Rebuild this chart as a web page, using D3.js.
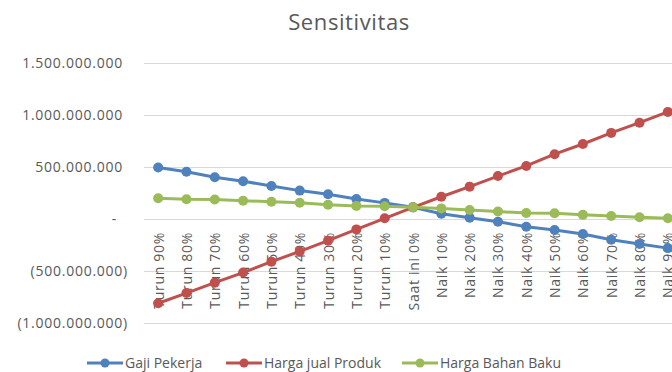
<!DOCTYPE html>
<html>
<head>
<meta charset="utf-8">
<script src="https://cdn.jsdelivr.net/npm/d3@7"></script>
<style>
  html, body { margin: 0; padding: 0; background: #fff; overflow: hidden; }
  svg { display: block; font-family: "Open Sans", "Liberation Sans", sans-serif; }
</style>
</head>
<body>
<svg id="chart" width="672" height="372"></svg>
<script>
// Scenario categories (price / cost change relative to current)
const categories = [
  "Turun 90%", "Turun 80%", "Turun 70%", "Turun 60%", "Turun 50%",
  "Turun 40%", "Turun 30%", "Turun 20%", "Turun 10%", "Saat ini 0%",
  "Naik 10%", "Naik 20%", "Naik 30%", "Naik 40%", "Naik 50%",
  "Naik 60%", "Naik 70%", "Naik 80%", "Naik 90%"
];

const gajiPekerja = [
  495e6, 455e6, 402e6, 363e6, 318e6, 273e6, 238e6, 192e6, 155e6, 112e6,
  50e6, 13e6, -26e6, -74e6, -106e6, -144e6, -200e6, -240e6, -280e6
];

const hargaJualProduk = [
  -810e6, -712e6, -612e6, -515e6, -410e6, -312e6, -208e6, -100e6, 7e6, 112e6,
  214e6, 311e6, 413e6, 510e6, 623e6, 721e6, 828e6, 926e6, 1030e6
];

const hargaBahanBaku = [
  200e6, 190e6, 188e6, 176e6, 166e6, 156e6, 137e6, 126e6, 123e6, 112e6,
  102e6, 87e6, 72e6, 58e6, 56e6, 40e6, 29e6, 17e6, 8e6
];

const yTicks = [-1e9, -5e8, 0, 5e8, 1e9, 1.5e9];

const seriesNames = ["Gaji Pekerja", "Harga jual Produk", "Harga Bahan Baku"];
const seriesColors = ["#4F81BD", "#C0504D", "#9BBB59"];
const seriesValues = [gajiPekerja, hargaJualProduk, hargaBahanBaku];

const FONT = "\"Open Sans\", \"Liberation Sans\", sans-serif";
const TEXT = "#595959";

const svg = d3.select("#chart");
const plot = { left: 144, right: 682, top: 63, bottom: 323 };

const x = d3.scalePoint()
  .domain(categories)
  .range([plot.left, plot.right])
  .padding(0.5);

const y = d3.scaleLinear()
  .domain([-1e9, 1.5e9])
  .range([plot.bottom, plot.top]);

// Accounting-style number format: dots as thousands separator,
// negatives in parentheses, zero shown as a dash
const fmtNum = v => {
  if (v === 0) return "-";
  const s = d3.format(",")(Math.abs(v)).replace(/,/g, ".");
  return v < 0 ? "(" + s + ")" : s;
};
// positives leave room for the closing parenthesis, zero dash sits further in
const labelShift = v => (v < 0 ? 0 : v === 0 ? -11 : -5);

// Title
svg.append("text")
  .attr("x", 349)
  .attr("y", 30)
  .attr("text-anchor", "middle")
  .attr("fill", TEXT)
  .attr("font-size", 22)
  .attr("letter-spacing", 0.6)
  .text("Sensitivitas");

// Horizontal gridlines
svg.append("g")
  .selectAll("line")
  .data(yTicks)
  .join("line")
  .attr("x1", plot.left)
  .attr("x2", plot.right)
  .attr("y1", d => Math.round(y(d)) + 0.5)
  .attr("y2", d => Math.round(y(d)) + 0.5)
  .attr("stroke", "#d9d9d9")
  .attr("stroke-width", 1);

// Y axis labels
const yAxis = d3.axisLeft(y)
  .tickValues(yTicks)
  .tickFormat(fmtNum)
  .tickSize(0)
  .tickPadding(0);

svg.append("g")
  .attr("transform", "translate(128,0)")
  .call(yAxis)
  .call(g => g.select(".domain").remove())
  .call(g => g.selectAll("text")
    .attr("fill", TEXT)
    .attr("font-size", 14)
    .attr("letter-spacing", 0.75)
    .attr("font-family", FONT)
    .attr("x", d => labelShift(d)));

// X axis labels, rotated, hanging below the zero line
const xAxis = d3.axisBottom(x).tickSize(0).tickPadding(0);
svg.append("g")
  .attr("transform", `translate(0,${y(0)})`)
  .call(xAxis)
  .call(g => g.select(".domain").remove())
  .call(g => g.selectAll("text")
    .attr("fill", TEXT)
    .attr("font-size", 14)
    .attr("letter-spacing", 0.7)
    .attr("font-family", FONT)
    .attr("text-anchor", "end")
    .attr("dy", "0.36em")
    .attr("transform", "translate(0,13) rotate(-90)")
    .attr("x", 0)
    .attr("y", 0));

// Series lines and markers
const line = d3.line()
  .x((d, i) => x(categories[i]))
  .y(d => y(d));

seriesValues.forEach((vals, si) => {
  const g = svg.append("g");
  g.append("path")
    .datum(vals)
    .attr("d", line)
    .attr("fill", "none")
    .attr("stroke", seriesColors[si])
    .attr("stroke-width", 3)
    .attr("stroke-linejoin", "round")
    .attr("stroke-linecap", "round");
  g.selectAll("circle")
    .data(vals)
    .join("circle")
    .attr("cx", (d, i) => x(categories[i]))
    .attr("cy", d => y(d))
    .attr("r", 5)
    .attr("fill", seriesColors[si]);
});

// Legend
const legendX = [87, 226, 402];
const legend = svg.append("g");
seriesNames.forEach((name, i) => {
  const lg = legend.append("g").attr("transform", `translate(${legendX[i]},363)`);
  lg.append("line")
    .attr("x1", 0).attr("x2", 36)
    .attr("y1", 0).attr("y2", 0)
    .attr("stroke", seriesColors[i])
    .attr("stroke-width", 3);
  lg.append("circle")
    .attr("cx", 18).attr("cy", 0).attr("r", 4.5)
    .attr("fill", seriesColors[i]);
  lg.append("text")
    .attr("x", 38)
    .attr("y", 0)
    .attr("dy", "0.35em")
    .attr("fill", TEXT)
    .attr("font-size", 14)
    .text(name);
});
</script>
</body>
</html>
